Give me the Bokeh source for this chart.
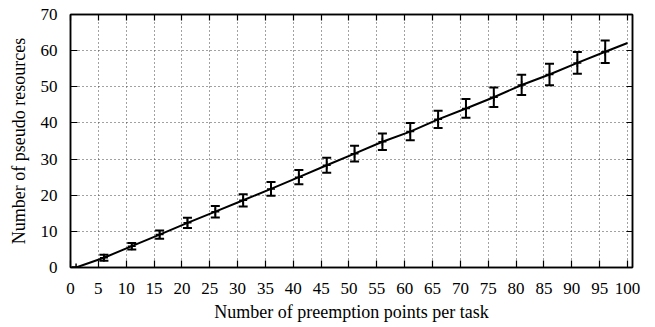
from bokeh.plotting import figure
from bokeh.models import ColumnDataSource, Whisker, TeeHead, LinearAxis, FixedTicker, Range1d
from bokeh.embed import file_html
from bokeh.resources import INLINE

# Data
points = [1, 6, 11, 16, 21, 26, 31, 36, 41, 46, 51, 56, 61, 66, 71, 76, 81, 86, 91, 96]
mean_resources = [0.0, 2.7, 5.9, 9.1, 12.35, 15.45, 18.6, 21.75, 25.0, 28.3,
                  31.5, 34.8, 37.6, 41.0, 44.0, 47.1, 50.5, 53.4, 56.6, 59.7]
err_half = [0.0, 0.8, 0.9, 1.15, 1.4, 1.6, 1.7, 1.9, 2.0, 2.1,
            2.2, 2.3, 2.4, 2.4, 2.6, 2.7, 2.8, 3.0, 3.0, 3.1]
line_x = points + [100]
line_y = mean_resources + [62.1]

x_ticks = list(range(0, 101, 5))
y_ticks = list(range(0, 71, 10))

FONT = "'Liberation Serif', 'Times New Roman', serif"
FS = "17px"
FS_TITLE = "18px"

lower = [m - e for m, e in zip(mean_resources, err_half)]
upper = [m + e for m, e in zip(mean_resources, err_half)]
src = ColumnDataSource(dict(x=points, y=mean_resources, lower=lower, upper=upper))

p = figure(width=655, height=327, output_backend="svg", toolbar_location=None,
           x_range=Range1d(0, 100.9), y_range=Range1d(0, 70),
           min_border_left=70, min_border_right=23, min_border_top=14, min_border_bottom=60)
p.background_fill_color = "white"
p.border_fill_color = "white"
p.outline_line_color = "black"
p.outline_line_width = 1.5

p.line(line_x, line_y, line_color="black", line_width=2)
p.add_layout(Whisker(source=src, base="x", lower="lower", upper="upper",
                     line_color="black", line_width=2,
                     upper_head=TeeHead(size=9, line_width=2, line_color="black"),
                     lower_head=TeeHead(size=9, line_width=2, line_color="black")))
p.scatter("x", "y", source=src, marker="cross", size=8, line_color="black", line_width=1.5)

for ax in (p.xaxis[0], p.yaxis[0]):
    ax.major_tick_out = 0
    ax.major_tick_in = 7
    ax.minor_tick_out = 0
    ax.minor_tick_in = 0
    ax.axis_line_color = "black"
    ax.axis_line_width = 1.5
    ax.major_tick_line_width = 1.2
    ax.major_label_text_font = FONT
    ax.major_label_text_font_size = FS
    ax.major_label_text_color = "black"
    ax.axis_label_text_font = FONT
    ax.axis_label_text_font_size = FS_TITLE
    ax.axis_label_text_font_style = "normal"
    ax.axis_label_text_color = "black"

p.xaxis[0].ticker = FixedTicker(ticks=x_ticks)
p.yaxis[0].ticker = FixedTicker(ticks=y_ticks)
p.xaxis[0].axis_label = "Number of preemption points per task"
p.yaxis[0].axis_label = "Number of pseudo resources"
p.xaxis[0].major_label_standoff = 15
p.xaxis[0].axis_label_standoff = 5
p.yaxis[0].major_label_standoff = 13
p.yaxis[0].axis_label_standoff = 9

top = LinearAxis(ticker=FixedTicker(ticks=x_ticks),
                 major_label_overrides={t: "" for t in x_ticks})
right = LinearAxis(ticker=FixedTicker(ticks=y_ticks),
                   major_label_overrides={t: "" for t in y_ticks})
for ax in (top, right):
    ax.major_tick_out = 0
    ax.major_tick_in = 6
    ax.minor_tick_out = 0
    ax.minor_tick_in = 0
    ax.major_label_standoff = 0
    ax.major_label_text_font_size = "1px"
    ax.axis_line_color = "black"
    ax.axis_line_width = 1.5
    ax.major_tick_line_width = 1.2
p.add_layout(top, "above")
p.add_layout(right, "right")

p.xgrid.ticker = FixedTicker(ticks=x_ticks)
p.ygrid.ticker = FixedTicker(ticks=y_ticks)
for g in (p.xgrid[0], p.ygrid[0]):
    g.grid_line_color = "#444444"
    g.grid_line_width = 1
    g.grid_line_dash = "1 3"

open("out.html", "w").write(file_html(p, INLINE))
